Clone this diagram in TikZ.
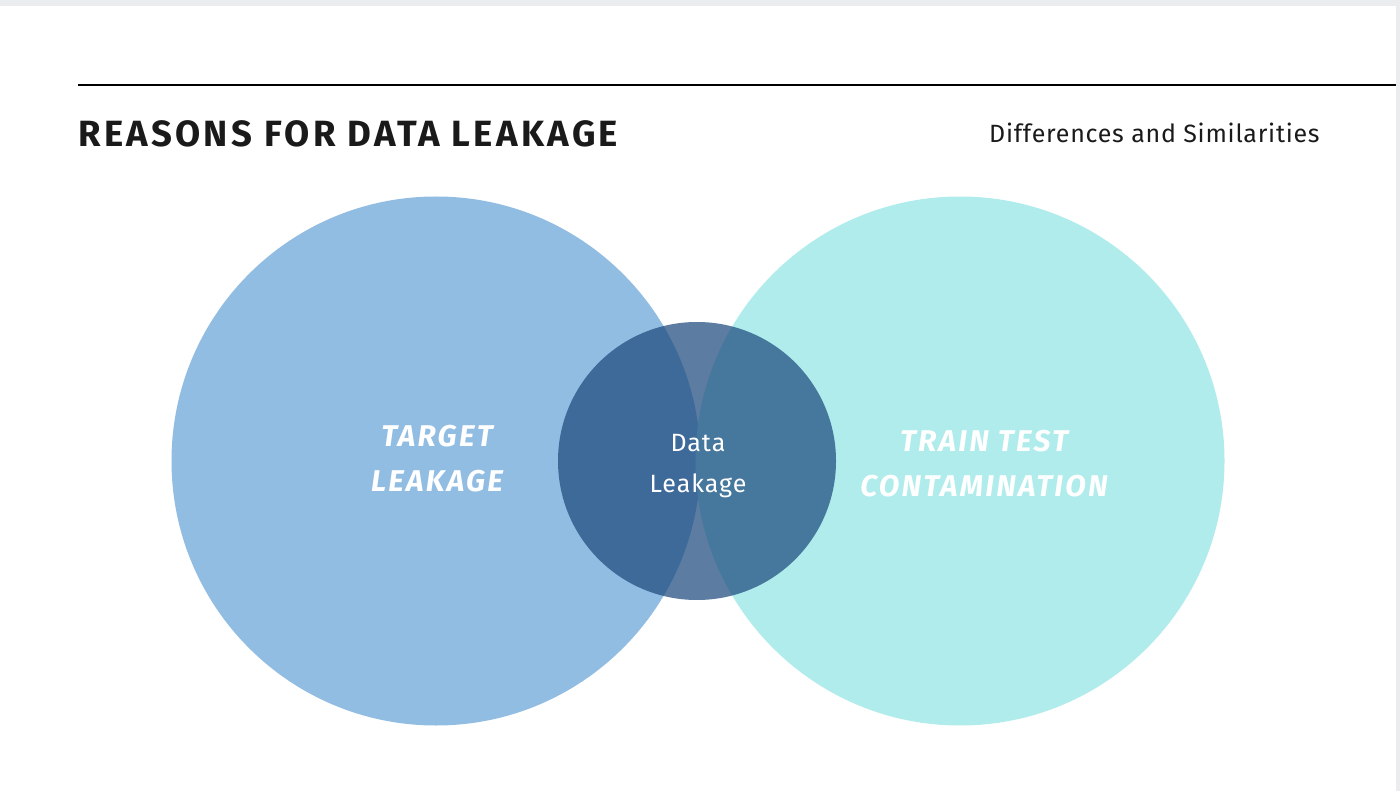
\documentclass[tikz,border=0pt]{standalone}
\usepackage{fontspec}
\setmainfont{Fira Sans}
\newfontfamily\titlefont[LetterSpace=9]{Fira Sans}
\newfontfamily\subfont[LetterSpace=3]{Fira Sans}
\newfontfamily\labelfont[LetterSpace=7.5]{Fira Sans}
\newfontfamily\midfont[LetterSpace=4]{Fira Sans}
\definecolor{pagegray}{HTML}{EBECEE}
\definecolor{leftblue}{HTML}{92BDE3}
\definecolor{rightcyan}{HTML}{B0ECEB}
\definecolor{navy}{HTML}{1E4A7E}
\definecolor{titleink}{HTML}{1A1A1A}
\tikzset{
  bigcircle/.style={circle, inner sep=0pt, minimum size=529pt},
  midcircle/.style={circle, inner sep=0pt, minimum size=278pt, fill=navy, fill opacity=0.72},
  biglabel/.style={text=white, align=center, inner sep=0pt, font={\labelfont\bfseries\itshape\fontsize{30}{45}\selectfont}},
  midlabel/.style={text=white, align=center, inner sep=0pt, font={\midfont\fontsize{25}{41}\selectfont}},
}
\begin{document}
\begin{tikzpicture}[x=1pt,y=-1pt]
\useasboundingbox (0,0) rectangle (1400,791);
\fill[white] (0,0) rectangle (1400,791);
\fill[pagegray] (0,0) rectangle (1400,6);
\fill[pagegray] (1396,0) rectangle (1400,791);
\coordinate (ruleL) at (78,85);
\coordinate (ruleR) at (1396,85);
\draw[line width=2pt, black] (ruleL) -- (ruleR);
\node[anchor=base west, inner sep=0pt, text=titleink, font={\titlefont\bfseries\fontsize{36.5}{40}\selectfont}] (title) at (78,147) {REASONS FOR DATA LEAKAGE};
\node[anchor=base west, inner sep=0pt, text=titleink, font={\subfont\fontsize{25}{30}\selectfont}] (subtitle) at (989,143) {Differences and Similarities};
\node[bigcircle, fill=leftblue] (left) at (436,461) {};
\node[bigcircle, fill=rightcyan] (right) at (960,461) {};
\node[midcircle] (mid) at (697,461) {};
\node[biglabel] (tl) at (437,459) {TARGET\\LEAKAGE};
\node[biglabel] (ttc) at (984,464) {TRAIN TEST\\CONTAMINATION};
\node[midlabel] (dl) at (698,466) {Data\\Leakage};
\end{tikzpicture}
\end{document}
